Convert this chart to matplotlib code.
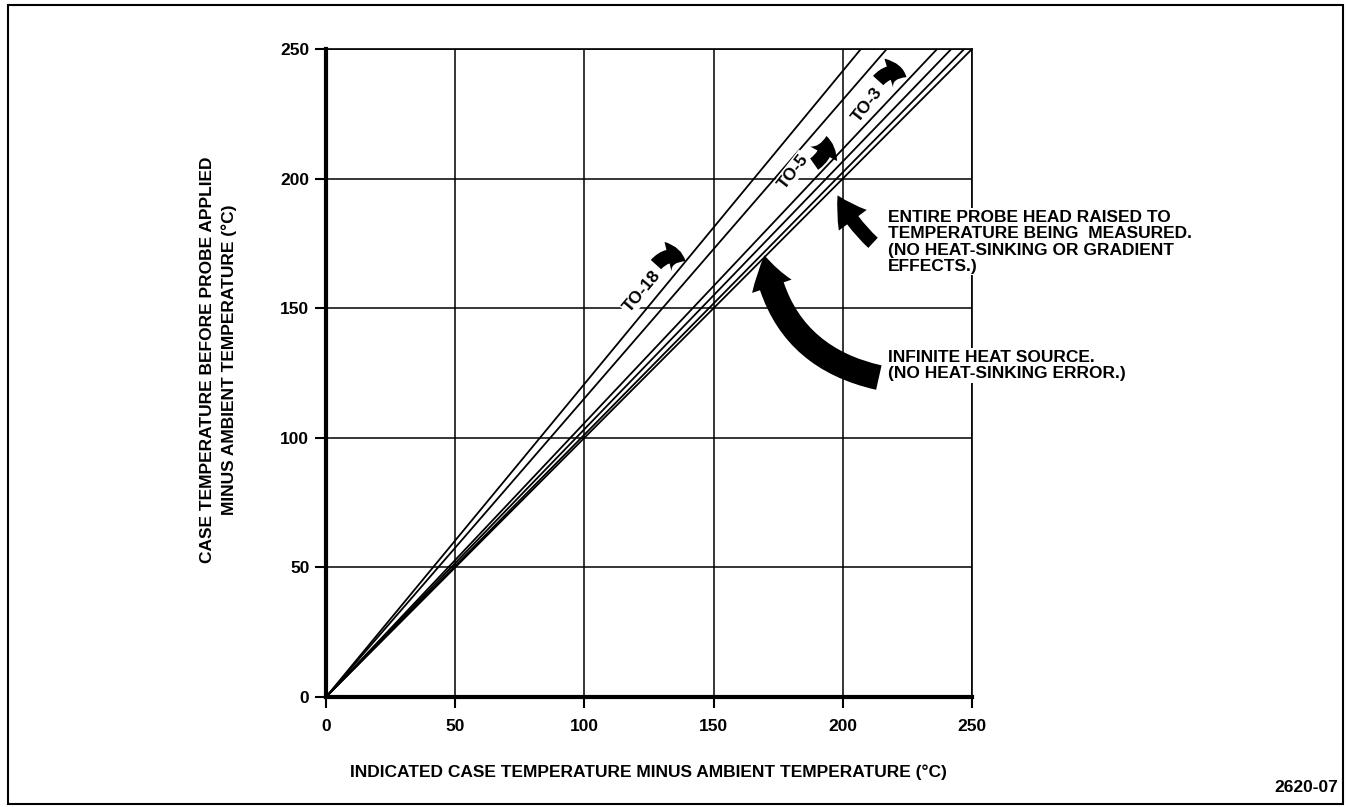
import matplotlib
matplotlib.use("Agg")
import matplotlib.pyplot as plt
from matplotlib.patches import FancyArrowPatch, Rectangle

plt.rcParams['font.family'] = ['Liberation Sans', 'DejaVu Sans']
plt.rcParams['font.weight'] = 'bold'

# each curve starts at the origin and leaves the plot at the top edge (y = 250)
curve_names = ["TO-18 a", "TO-18 b", "TO-5", "TO-3", "infinite source", "probe head raised"]
curve_x_top = [207, 217, 236.5, 242, 247, 250]
curve_y_top = [250, 250, 250, 250, 250, 250]

ticks = [0, 50, 100, 150, 200, 250]

# package labels: text, x, y, rotation
pkg_labels = ["TO-18", "TO-5", "TO-3"]
pkg_x = [122.3, 180.7, 209.4]
pkg_y = [156.4, 202.7, 228.6]
pkg_rot = [50, 52, 52]

# small pointer arrows next to the package labels (tail -> tip)
pkg_arrow_tail = [(127.0, 166.0), (188.0, 205.0), (213.0, 237.0)]
pkg_arrow_tip = [(140.0, 167.5), (193.5, 217.5), (225.5, 238.5)]
pkg_arrow_rad = [-0.5, 0.35, -0.5]

note_probe = "ENTIRE PROBE HEAD RAISED TO\nTEMPERATURE BEING  MEASURED.\n(NO HEAT-SINKING OR GRADIENT\nEFFECTS.)"
note_infinite = "INFINITE HEAT SOURCE.\n(NO HEAT-SINKING ERROR.)"

fig = plt.figure(figsize=(13.48, 8.07), dpi=100)
ax = fig.add_axes([326/1348, 1-697/807, (972-326)/1348, (697-49)/807])

for i in range(len(curve_x_top)):
    ax.plot([0, curve_x_top[i]], [0, curve_y_top[i]], color='black', lw=1.3,
            solid_capstyle='butt', zorder=2)

ax.set_xlim(0, 250)
ax.set_ylim(0, 250)
ax.set_xticks(ticks)
ax.set_yticks(ticks)
ax.grid(True, color='black', lw=1.1)
ax.set_axisbelow(True)
for s in ['left', 'bottom']:
    ax.spines[s].set_linewidth(3)
for s in ['top', 'right']:
    ax.spines[s].set_linewidth(1.2)
ax.tick_params(axis='both', length=8, width=1.5, color='black', labelsize=12.5)
ax.tick_params(axis='x', pad=8)
ax.tick_params(axis='y', pad=4)
for lab in ax.get_xticklabels() + ax.get_yticklabels():
    lab.set_fontweight('bold')

for i in range(len(pkg_labels)):
    ax.text(pkg_x[i], pkg_y[i], pkg_labels[i], rotation=pkg_rot[i], fontsize=12.5,
            fontweight='bold', ha='center', va='center', rotation_mode='anchor',
            bbox=dict(facecolor='white', edgecolor='none', pad=1), zorder=4)
    arr = FancyArrowPatch(pkg_arrow_tail[i], pkg_arrow_tip[i],
                          connectionstyle="arc3,rad=%s" % pkg_arrow_rad[i],
                          arrowstyle="simple,head_length=1.3,head_width=2.2,tail_width=1.0",
                          mutation_scale=10, color='black', lw=0, zorder=5)
    ax.add_patch(arr)

# arrows from the notes to the curves
arr = FancyArrowPatch((215, 123), (169.5, 171.5), connectionstyle="arc3,rad=-0.35",
                      arrowstyle="simple,head_length=2.3,head_width=3.0,tail_width=1.8",
                      mutation_scale=10, color='black', lw=0, zorder=5, clip_on=False)
ax.add_patch(arr)
arr = FancyArrowPatch((212.5, 174.5), (197.5, 194.5), connectionstyle="arc3,rad=-0.1",
                      arrowstyle="simple,head_length=2.1,head_width=2.5,tail_width=1.0",
                      mutation_scale=10, color='black', lw=0, zorder=5, clip_on=False)
ax.add_patch(arr)

ax.text(217.5, 188, note_probe, fontsize=12.5, fontweight='bold', ha='left', va='top',
        linespacing=1.12, bbox=dict(facecolor='white', edgecolor='none', pad=1),
        zorder=4, clip_on=False)
ax.text(217.5, 134, note_infinite, fontsize=12.5, fontweight='bold', ha='left', va='top',
        linespacing=1.12, bbox=dict(facecolor='white', edgecolor='none', pad=1),
        zorder=4, clip_on=False)

fig.text(648/1348, 1-772/807, "INDICATED CASE TEMPERATURE MINUS AMBIENT TEMPERATURE (°C)",
         fontsize=12.5, fontweight='bold', ha='center', va='center')
fig.text(207/1348, 1-360/807, "CASE TEMPERATURE BEFORE PROBE APPLIED",
         fontsize=12.5, fontweight='bold', ha='center', va='center', rotation=90)
fig.text(229/1348, 1-360/807, "MINUS AMBIENT TEMPERATURE (°C)",
         fontsize=12.5, fontweight='bold', ha='center', va='center', rotation=90)
fig.text(1338/1348, 1-788/807, "2620-07", fontsize=12.5, fontweight='bold',
         ha='right', va='center')

fig.patches.append(Rectangle((8/1348, 1-804/807), (1343-8)/1348, (804-5)/807,
                             transform=fig.transFigure, fill=False, edgecolor='black', lw=1.5))

plt.savefig("out.png", dpi=100)
